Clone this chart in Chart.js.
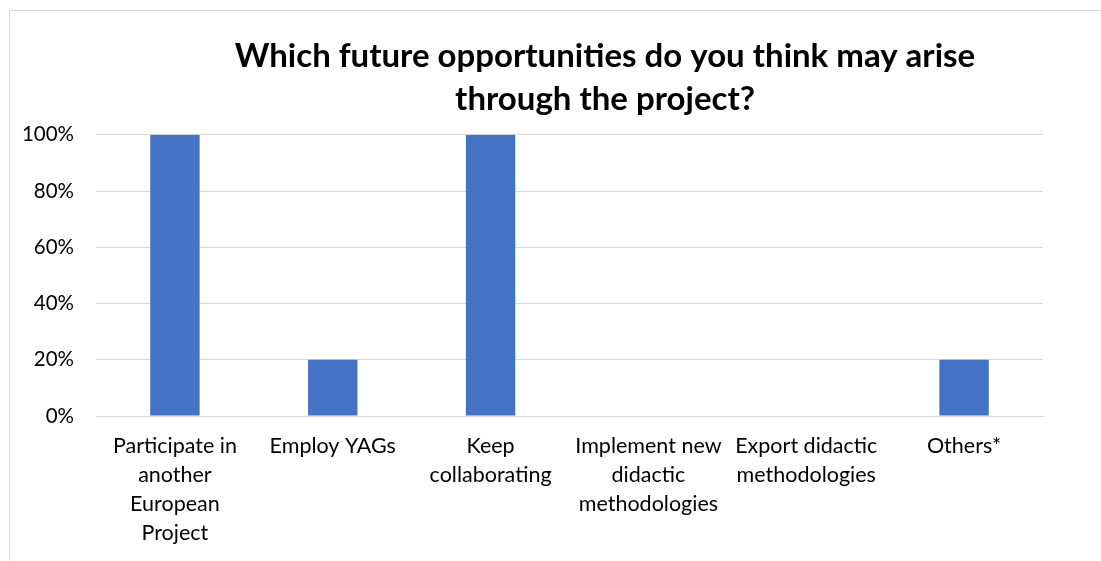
<!DOCTYPE html>
<html>
<head>
<meta charset="utf-8">
<script src="https://cdn.jsdelivr.net/npm/chart.js@4.4.1/dist/chart.umd.min.js"></script>
<style>
  body { margin: 0; background: #fff; }
  #wrap { position: relative; width: 1101px; height: 561px; overflow: hidden; }
  #frame { position: absolute; left: 9px; top: 10px; width: 1300px; height: 700px;
           border-left: 1px solid #d9d9d9; border-top: 1px solid #d9d9d9; }
  #c { position: absolute; left: 0; top: 0; }
</style>
</head>
<body>
<div id="wrap">
  <div id="frame"></div>
  <canvas id="c" width="1210" height="561"></canvas>
</div>
<script>
// categories (multi-line labels) and share of answers in %
const categories = [
  ['Participate in', 'another', 'European', 'Project'],
  ['Employ YAGs'],
  ['Keep', 'collaborating'],
  ['Implement new', 'didactic', 'methodologies'],
  ['Export didactic', 'methodologies'],
  ['Others*']
];
const shares = [100, 20, 100, 0, 0, 20];
const yTicks = [0, 20, 40, 60, 80, 100];

const fontFamily = 'Lato, "Open Sans", sans-serif';

let config = {
  type: 'bar',
  data: {
    labels: categories,
    datasets: [{
      data: shares,
      backgroundColor: '#4472c4',
      barPercentage: 0.313,
      categoryPercentage: 1.0
    }]
  },
  options: {
    responsive: false,
    animation: false,
    layout: { padding: 0 },
    plugins: {
      legend: { display: false },
      tooltip: { enabled: false },
      title: {
        display: true,
        text: ['Which future opportunities do you think may arise', 'through the project?'],
        color: '#000',
        font: { family: fontFamily, size: 33, weight: 'bold', lineHeight: 1.3 },
        padding: { top: 35, bottom: 14 }
      }
    },
    scales: {
      x: {
        grid: { display: false, drawTicks: false },
        border: { display: true, color: '#d9d9d9', width: 1 },
        ticks: {
          color: '#000',
          autoSkip: false,
          maxRotation: 0,
          padding: 15,
          font: { family: fontFamily, size: 21.5, lineHeight: 1.36 }
        },
        afterFit: (scale) => { scale.height = 145; }
      },
      y: {
        min: 0,
        max: 100,
        afterBuildTicks: (scale) => { scale.ticks = yTicks.map(v => ({ value: v })); },
        grid: { color: '#d9d9d9', lineWidth: 1, drawTicks: false },
        border: { display: false },
        ticks: {
          color: '#000',
          padding: 22,
          font: { family: fontFamily, size: 20.5 },
          callback: (v) => v + '%'
        },
        afterFit: (scale) => { scale.width = 96; }
      },
      // empty right-side spacer so the plot stops short of the canvas edge
      spacer: {
        type: 'linear',
        position: 'right',
        display: true,
        grid: { display: false, drawTicks: false },
        border: { display: false },
        ticks: { display: false },
        afterFit: (scale) => { scale.width = 167; }
      }
    }
  }
};

new Chart(document.getElementById('c'), config);
</script>
</body>
</html>
